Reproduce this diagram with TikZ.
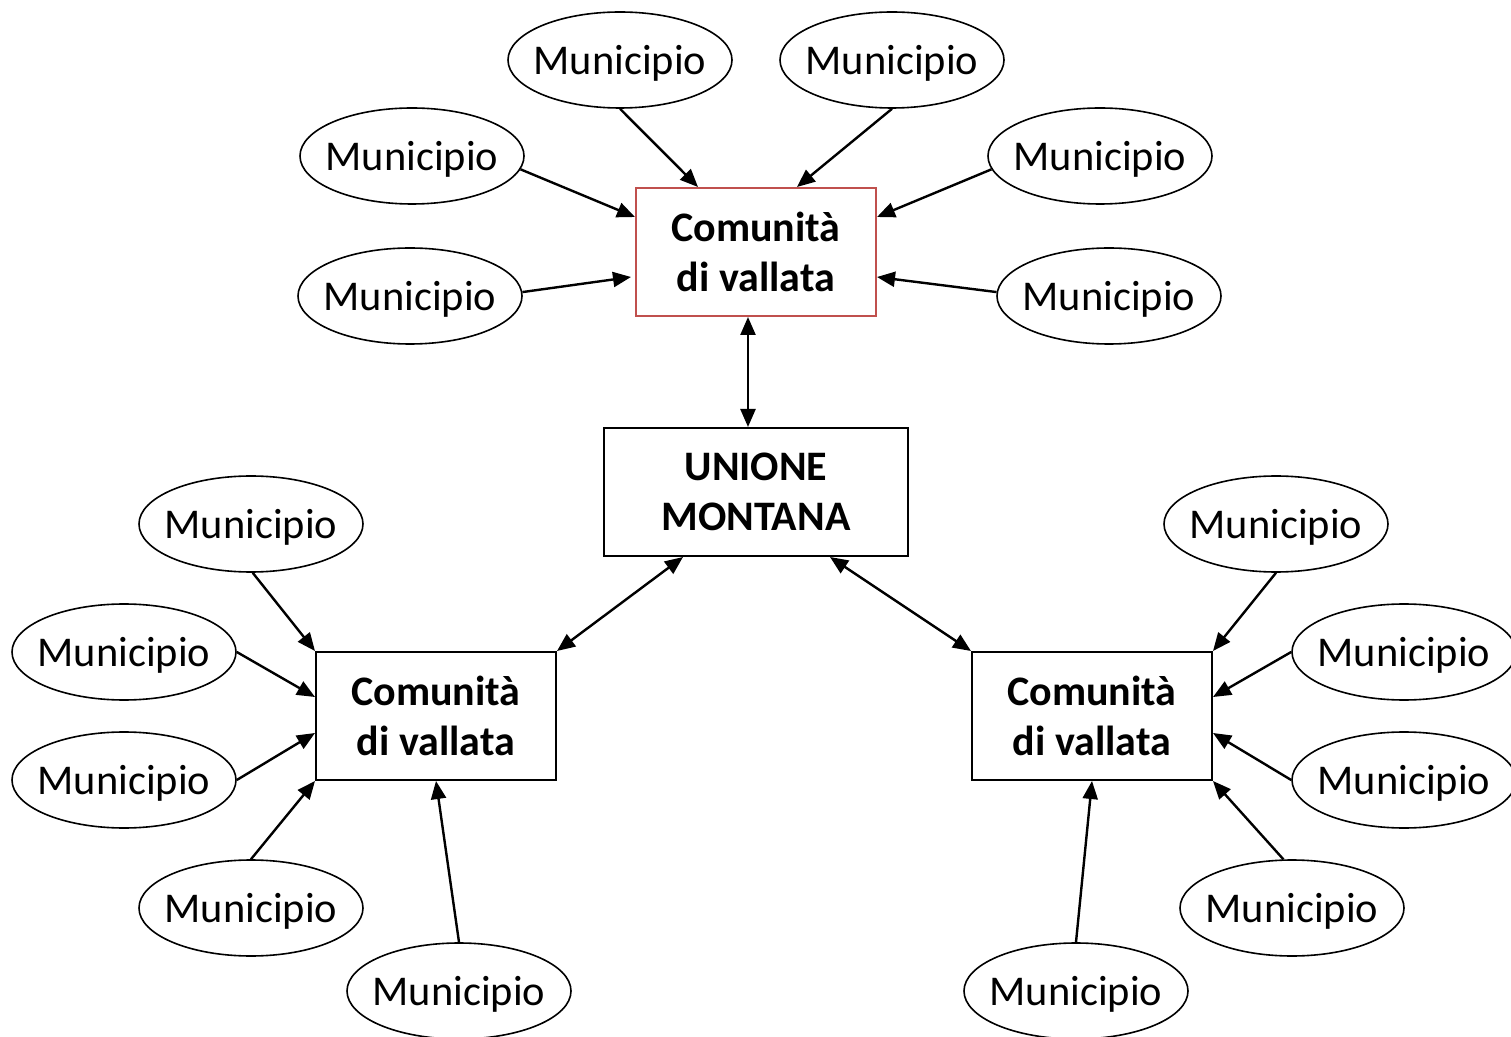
\documentclass[tikz,border=0pt]{standalone}
\usepackage{fontspec}
\setmainfont{Carlito}
\usetikzlibrary{arrows.meta,shapes.geometric}
\definecolor{accentred}{HTML}{C0504D}
\newcommand{\mlabel}[1]{\makebox[0pt]{\raisebox{-1.5pt}[\height][\depth]{#1}}}
\begin{document}
\begin{tikzpicture}[x=0.5pt,y=-0.5pt,
  muni/.style={draw,ellipse,line width=0.8pt,minimum width=112pt,minimum height=48pt,
    inner sep=0pt,font=\fontsize{21.2}{24}\selectfont},
  ente/.style={draw,rectangle,line width=1pt,minimum height=64pt,inner sep=0pt,
    align=center,font=\bfseries\fontsize{21}{25}\selectfont},
  link/.style={line width=1.2pt,-{Triangle[length=9pt,width=7.5pt]}},
  dlink/.style={line width=1.2pt,{Triangle[length=9pt,width=7.5pt]}-{Triangle[length=9pt,width=7.5pt]}}]
\useasboundingbox (0,0) rectangle (1511,1037);

% central bodies
\node[ente,draw=accentred,minimum width=120pt] (top) at (756,252) {Comunità\\ di vallata};
\node[ente,minimum width=152pt] (union) at (756,492) {UNIONE\\MONTANA};
\node[ente,minimum width=120pt] (left) at (436,716) {Comunità\\ di vallata};
\node[ente,minimum width=120pt] (right) at (1092,716) {Comunità\\ di vallata};

% municipalities around the upper community
\node[muni] (e1) at (620,60) {\mlabel{Municipio}};
\node[muni] (e2) at (892,60) {\mlabel{Municipio}};
\node[muni] (e3) at (412,156) {\mlabel{Municipio}};
\node[muni] (e4) at (1100,156) {\mlabel{Municipio}};
\node[muni] (e5) at (410,296) {\mlabel{Municipio}};
\node[muni] (e6) at (1109,296) {\mlabel{Municipio}};

% municipalities around the left community
\node[muni] (e7) at (251,524) {\mlabel{Municipio}};
\node[muni] (e8) at (124,652) {\mlabel{Municipio}};
\node[muni] (e9) at (124,780) {\mlabel{Municipio}};
\node[muni] (e10) at (251,908) {\mlabel{Municipio}};
\node[muni] (e11) at (459,991) {\mlabel{Municipio}};

% municipalities around the right community
\node[muni] (e12) at (1276,524) {\mlabel{Municipio}};
\node[muni] (e13) at (1404,652) {\mlabel{Municipio}};
\node[muni] (e14) at (1404,780) {\mlabel{Municipio}};
\node[muni] (e15) at (1292,908) {\mlabel{Municipio}};
\node[muni] (e16) at (1076,991) {\mlabel{Municipio}};

% links to the upper community
\draw[link] (e1.south) -- ([xshift=31.5pt]top.north west);
\draw[link] (e2.south) -- ([xshift=81pt]top.north west);
\draw[link] (e3.-7) -- ([yshift=-15pt]top.north west);
\draw[link] (e4.187) -- ([yshift=-15pt]top.north east);
\draw[link] (e5.2) -- ([xshift=-2pt,yshift=-45pt]top.north west);
\draw[link] (e6.178) -- ([yshift=-45pt]top.north east);

% links between the communities and the union
\draw[dlink] ([xshift=-4pt]top.south) -- ([xshift=-4pt]union.north);
\draw[dlink] ([xshift=40pt]union.south west) -- (left.north east);
\draw[dlink] ([xshift=37pt]union.south) -- (right.north west);

% links to the left community
\draw[link] (e7.-88) -- (left.north west);
\draw[link] (e8.east) -- ([yshift=-23pt]left.north west);
\draw[link] (e9.east) -- ([yshift=-41pt]left.north west);
\draw[link] (e10.north) -- (left.south west);
\draw[link] (e11.north) -- (left.south);

% links to the right community
\draw[link] (e12.south) -- (right.north east);
\draw[link] (e13.west) -- ([yshift=-23pt]right.north east);
\draw[link] (e14.west) -- ([yshift=-41pt]right.north east);
\draw[link] (e15.100) -- (right.south east);
\draw[link] (e16.north) -- (right.south);
\end{tikzpicture}
\end{document}
